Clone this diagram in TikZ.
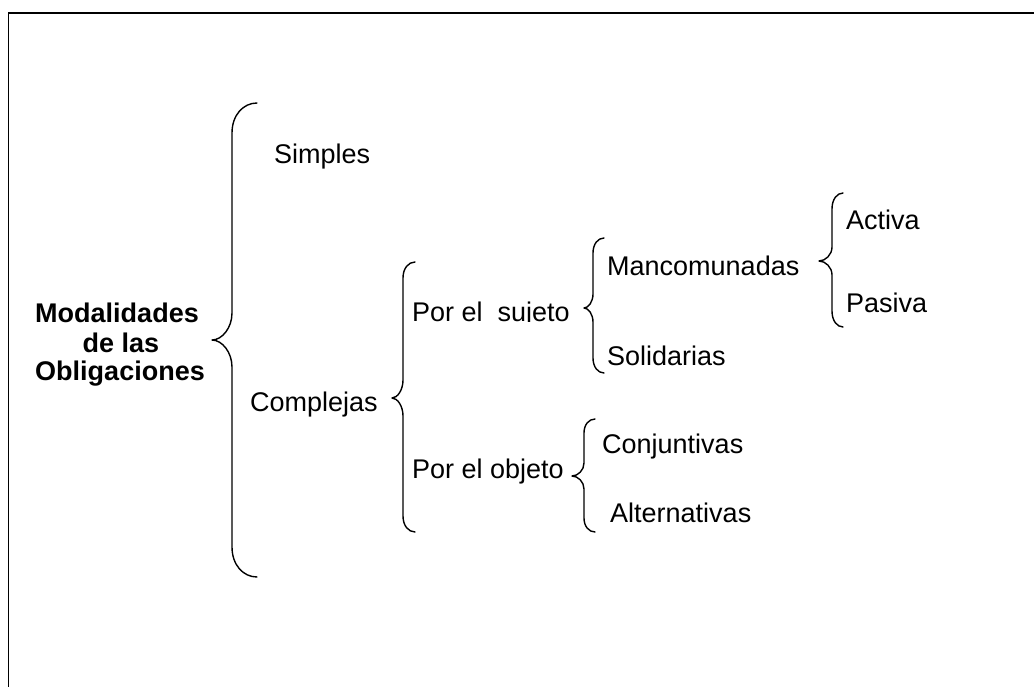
\documentclass[tikz,border=0pt]{standalone}
\usepackage{fontspec}
\setmainfont{Liberation Sans}
\newcommand{\wordbrace}[8]{% #1 end x, #2 vertical x, #3 tip x, #4 top y, #5 tip y, #6 bottom y, #7 curl height, #8 tip height
  \draw[bracestyle] (#1,#4) .. controls ({#2+0.45*(#1-#2)},#4) and (#2,{#4+0.4*#7}) .. (#2,{#4+#7})
    -- (#2,{#5-#8}) .. controls (#2,{#5-0.45*#8}) and ({#3+0.5*(#2-#3)},#5) .. (#3,#5)
    .. controls ({#3+0.5*(#2-#3)},#5) and (#2,{#5+0.45*#8}) .. (#2,{#5+#8})
    -- (#2,{#6-#7}) .. controls (#2,{#6-0.4*#7}) and ({#2+0.45*(#1-#2)},#6) .. (#1,#6);}
\begin{document}
\begin{tikzpicture}[x=1pt,y=-1pt,
  bracestyle/.style={line width=1.4pt,line cap=round,line join=round},
  lbl/.style={anchor=base west,inner sep=0pt,font=\fontsize{27}{30}\selectfont},
  ttl/.style={anchor=base,inner sep=0pt,font=\fontsize{27}{30}\selectfont\bfseries}]
\useasboundingbox (0,0) rectangle (1034,686);
% frame
\draw[line width=1.8pt] (8.5,700) -- (8.5,13) -- (1050,13);
% title
\node[ttl] (t1) at (117,322) {Modalidades};
\node[ttl] (t2) at (121,352) {de las};
\node[ttl] (t3) at (120,380) {Obligaciones};
% main brace
\wordbrace{257}{232}{212}{103}{340}{577}{30}{27}
\node[lbl] (simples) at (274,163) {Simples};
\node[lbl] (complejas) at (250,411) {Complejas};
% brace complejas
\wordbrace{415}{403}{392}{262}{398}{532}{16}{18}
\begin{scope}
  \clip (400,280) rectangle (600,321.5);
  \node[lbl] (sujeto) at (412,321) {Por el\ \ sujeto};
\end{scope}
\node[lbl] (objeto) at (412,478) {Por el objeto};
% brace sujeto
\wordbrace{604}{593}{584}{238}{308}{373}{15}{14}
\node[lbl] (manc) at (607,275) {Mancomunadas};
\node[lbl] (solid) at (607,365) {Solidarias};
% brace mancomunadas
\wordbrace{843}{832}{819}{193}{261}{327}{16}{14}
\node[lbl] (activa) at (846,229) {Activa};
\node[lbl] (pasiva) at (846,312) {Pasiva};
% brace objeto
\wordbrace{595}{584}{572}{419}{476}{532}{14}{13}
\node[lbl] (conj) at (602,453) {Conjuntivas};
\node[lbl] (alt) at (610,522) {Alternativas};
\end{tikzpicture}
\end{document}
